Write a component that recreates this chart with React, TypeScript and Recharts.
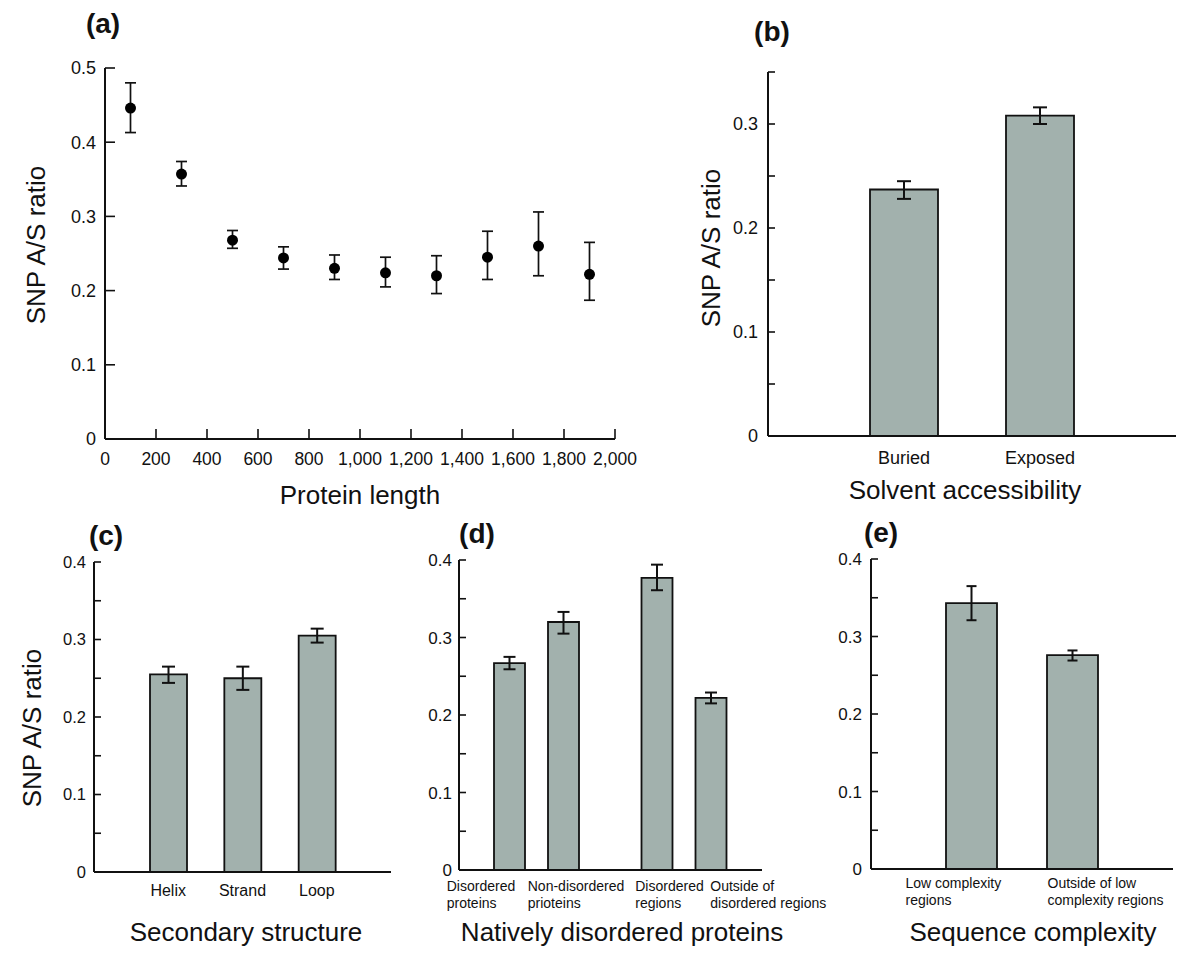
import React from 'react'
import {
  ScatterChart,
  Scatter,
  BarChart,
  Bar,
  XAxis,
  YAxis,
  ErrorBar,
} from 'recharts'

// (a) SNP A/S ratio vs protein length (bin centres)
const lengthBins = [100, 300, 500, 700, 900, 1100, 1300, 1500, 1700, 1900]
const lengthRatio = [0.446, 0.357, 0.268, 0.244, 0.23, 0.224, 0.22, 0.245, 0.26, 0.222]
const lengthLow = [0.413, 0.341, 0.257, 0.229, 0.215, 0.205, 0.196, 0.215, 0.22, 0.187]
const lengthHigh = [0.48, 0.374, 0.281, 0.259, 0.248, 0.245, 0.247, 0.28, 0.306, 0.265]
const lengthTicks = [0, 200, 400, 600, 800, 1000, 1200, 1400, 1600, 1800, 2000]
const ratioTicksA = [0, 0.1, 0.2, 0.3, 0.4, 0.5]

// (b) solvent accessibility
const solventCats = ['Buried', 'Exposed']
const solventRatio = [0.237, 0.308]
const solventLow = [0.228, 0.3]
const solventHigh = [0.245, 0.316]
const ratioTicksB = [0, 0.05, 0.1, 0.15, 0.2, 0.25, 0.3, 0.35]

// (c) secondary structure
const structCats = ['Helix', 'Strand', 'Loop']
const structRatio = [0.255, 0.25, 0.305]
const structLow = [0.244, 0.235, 0.296]
const structHigh = [0.265, 0.265, 0.314]

// (d) natively disordered proteins, two groups of two bars
const disorderGroups = ['proteins', 'regions']
const disorderInRatio = [0.267, 0.377]
const disorderInLow = [0.259, 0.361]
const disorderInHigh = [0.275, 0.394]
const disorderOutRatio = [0.32, 0.222]
const disorderOutLow = [0.305, 0.215]
const disorderOutHigh = [0.333, 0.229]
const disorderLabels = [
  [['Disordered', 'proteins'], ['Non-disordered', 'prioteins']],
  [['Disordered', 'regions'], ['Outside of', 'disordered regions']],
]

// (e) sequence complexity
const complexityCats = ['low', 'outside']
const complexityRatio = [0.343, 0.276]
const complexityLow = [0.321, 0.269]
const complexityHigh = [0.365, 0.282]
const complexityLabels = [
  ['Low complexity', 'regions'],
  ['Outside of low', 'complexity regions'],
]

const ratioTicks04 = [0, 0.05, 0.1, 0.15, 0.2, 0.25, 0.3, 0.35, 0.4]

const FONT = '"Liberation Sans", Arial, Helvetica, sans-serif'
const INK = '#111'
const BAR_FILL = '#a2b1ad'

const err = (v: number, lo: number, hi: number) => [+(v - lo).toFixed(4), +(hi - v).toFixed(4)]

const lengthData = lengthBins.map((len, i) => ({
  len,
  ratio: lengthRatio[i],
  err: err(lengthRatio[i], lengthLow[i], lengthHigh[i]),
}))
const solventData = solventCats.map((name, i) => ({
  name,
  ratio: solventRatio[i],
  err: err(solventRatio[i], solventLow[i], solventHigh[i]),
}))
const structData = structCats.map((name, i) => ({
  name,
  ratio: structRatio[i],
  err: err(structRatio[i], structLow[i], structHigh[i]),
}))
const disorderData = disorderGroups.map((name, i) => ({
  name,
  inside: disorderInRatio[i],
  insideErr: err(disorderInRatio[i], disorderInLow[i], disorderInHigh[i]),
  outside: disorderOutRatio[i],
  outsideErr: err(disorderOutRatio[i], disorderOutLow[i], disorderOutHigh[i]),
}))
const complexityData = complexityCats.map((name, i) => ({
  name,
  ratio: complexityRatio[i],
  err: err(complexityRatio[i], complexityLow[i], complexityHigh[i]),
}))

const majorOnly = (v: number) => {
  const k = Math.round(v * 100)
  if (k % 10 !== 0) return ''
  return k === 0 ? '0' : (k / 100).toFixed(1)
}

const axisLine = { stroke: INK, strokeWidth: 2 }
const tickLine = { stroke: INK, strokeWidth: 1.6 }

function Dot(props: any) {
  return <circle cx={props.cx} cy={props.cy} r={5.5} fill="#000" />
}

// label starts relative to the group centre, left aligned like the original
const disorderShift = [
  [-90, -9],
  [-49, 26],
]
function DisorderTick({ x, y, index }: any) {
  const labels = disorderLabels[index] || []
  return (
    <g>
      {labels.map((lines, j) => (
        <text key={j} x={x + disorderShift[index][j]} y={y} fontSize={14} fill={INK} textAnchor="start">
          <tspan x={x + disorderShift[index][j]} dy={21}>{lines[0]}</tspan>
          <tspan x={x + disorderShift[index][j]} dy={17}>{lines[1]}</tspan>
        </text>
      ))}
    </g>
  )
}

const complexityShift = [-66, -25]
function ComplexityTick({ x, y, index }: any) {
  const lines = complexityLabels[index] || []
  const lx = x + complexityShift[index]
  return (
    <text x={lx} y={y} fontSize={14} fill={INK} textAnchor="start">
      <tspan x={lx} dy={19}>{lines[0]}</tspan>
      <tspan x={lx} dy={17}>{lines[1]}</tspan>
    </text>
  )
}

function Caption({ x, y, size, bold, rotate, children }: any) {
  return (
    <div
      style={{
        position: 'absolute',
        left: x,
        top: y,
        transform: `translate(-50%, -50%)${rotate ? ' rotate(-90deg)' : ''}`,
        fontSize: size,
        fontWeight: bold ? 'bold' : 'normal',
        whiteSpace: 'nowrap',
        lineHeight: 1,
        color: INK,
      }}
    >
      {children}
    </div>
  )
}

const place = (left: number, top: number): React.CSSProperties => ({ position: 'absolute', left, top })

export default function App() {
  return (
    <div
      style={{
        position: 'absolute',
        left: 0,
        top: 0,
        width: 1200,
        height: 959,
        background: '#fff',
        fontFamily: FONT,
        overflow: 'hidden',
      }}
    >
      {/* (a) */}
      <div style={place(0, 0)}>
        <ScatterChart width={640} height={520} margin={{ top: 68, right: 25, bottom: 21, left: 45 }}>
          <XAxis
            type="number"
            dataKey="len"
            domain={[0, 2000]}
            ticks={lengthTicks}
            tickFormatter={(v: number) => v.toLocaleString('en-US')}
            height={60}
            axisLine={axisLine}
            tickLine={tickLine}
            tickSize={-10}
            tickMargin={24}
            tick={{ fill: INK, fontSize: 17.5 }}
            interval={0}
          />
          <YAxis
            type="number"
            dataKey="ratio"
            domain={[0, 0.5]}
            ticks={ratioTicksA}
            tickFormatter={(v: number) => (v === 0 ? '0' : v.toFixed(1))}
            width={60}
            axisLine={axisLine}
            tickLine={tickLine}
            tickSize={-10}
            tickMargin={19}
            tick={{ fill: INK, fontSize: 18 }}
            interval={0}
          />
          <Scatter data={lengthData} shape={<Dot />} isAnimationActive={false}>
            <ErrorBar dataKey="err" direction="y" width={5.5} stroke={INK} strokeWidth={1.7} />
          </Scatter>
        </ScatterChart>
      </div>

      {/* (b) */}
      <div style={place(640, 0)}>
        <BarChart width={560} height={520} data={solventData} margin={{ top: 72, right: 24, bottom: 44, left: 68 }}>
          <XAxis
            dataKey="name"
            padding={{ left: 68, right: 68 }}
            height={40}
            axisLine={axisLine}
            tickLine={false}
            tickSize={0}
            tickMargin={15}
            tick={{ fill: INK, fontSize: 18 }}
            interval={0}
          />
          <YAxis
            domain={[0, 0.35]}
            ticks={ratioTicksB}
            tickFormatter={majorOnly}
            width={60}
            axisLine={axisLine}
            tickLine={tickLine}
            tickSize={-7}
            tickMargin={17}
            tick={{ fill: INK, fontSize: 18 }}
            interval={0}
          />
          <Bar dataKey="ratio" barSize={68} fill={BAR_FILL} stroke={INK} strokeWidth={1.8} isAnimationActive={false}>
            <ErrorBar dataKey="err" width={7} stroke={INK} strokeWidth={2} />
          </Bar>
        </BarChart>
      </div>

      {/* (c) */}
      <div style={place(0, 520)}>
        <BarChart width={420} height={439} data={structData} margin={{ top: 42, right: 29, bottom: 47, left: 44 }}>
          <XAxis
            dataKey="name"
            padding={{ left: 37, right: 37 }}
            height={40}
            axisLine={axisLine}
            tickLine={false}
            tickSize={0}
            tickMargin={13}
            tick={{ fill: INK, fontSize: 16 }}
            interval={0}
          />
          <YAxis
            domain={[0, 0.4]}
            ticks={ratioTicks04}
            tickFormatter={majorOnly}
            width={50}
            axisLine={axisLine}
            tickLine={tickLine}
            tickSize={-7}
            tickMargin={15}
            tick={{ fill: INK, fontSize: 16.5 }}
            interval={0}
          />
          <Bar dataKey="ratio" barSize={37} fill={BAR_FILL} stroke={INK} strokeWidth={1.8} isAnimationActive={false}>
            <ErrorBar dataKey="err" width={6.5} stroke={INK} strokeWidth={2} />
          </Bar>
        </BarChart>
      </div>

      {/* (d) */}
      <div style={place(400, 520)}>
        <BarChart
          width={450}
          height={439}
          data={disorderData}
          barGap={23}
          margin={{ top: 40, right: 88, bottom: 39, left: 20 }}
        >
          <XAxis
            dataKey="name"
            padding={{ left: 4, right: 4 }}
            height={50}
            axisLine={axisLine}
            tickLine={false}
            tickSize={0}
            tickMargin={0}
            tick={<DisorderTick />}
            interval={0}
          />
          <YAxis
            domain={[0, 0.4]}
            ticks={ratioTicks04}
            tickFormatter={majorOnly}
            width={39}
            axisLine={axisLine}
            tickLine={tickLine}
            tickSize={-7}
            tickMargin={14}
            tick={{ fill: INK, fontSize: 17 }}
            interval={0}
          />
          <Bar dataKey="inside" barSize={31} fill={BAR_FILL} stroke={INK} strokeWidth={1.8} isAnimationActive={false}>
            <ErrorBar dataKey="insideErr" width={6} stroke={INK} strokeWidth={2} />
          </Bar>
          <Bar dataKey="outside" barSize={31} fill={BAR_FILL} stroke={INK} strokeWidth={1.8} isAnimationActive={false}>
            <ErrorBar dataKey="outsideErr" width={6} stroke={INK} strokeWidth={2} />
          </Bar>
        </BarChart>
      </div>

      {/* (e) */}
      <div style={place(820, 520)}>
        <BarChart width={380} height={439} data={complexityData} margin={{ top: 39, right: 27, bottom: 40, left: 11 }}>
          <XAxis
            dataKey="name"
            padding={{ left: 50, right: 50 }}
            height={50}
            axisLine={axisLine}
            tickLine={false}
            tickSize={0}
            tickMargin={0}
            tick={<ComplexityTick />}
            interval={0}
          />
          <YAxis
            domain={[0, 0.4]}
            ticks={ratioTicks04}
            tickFormatter={majorOnly}
            width={40}
            axisLine={axisLine}
            tickLine={tickLine}
            tickSize={-7}
            tickMargin={16}
            tick={{ fill: INK, fontSize: 17 }}
            interval={0}
          />
          <Bar dataKey="ratio" barSize={51} fill={BAR_FILL} stroke={INK} strokeWidth={1.8} isAnimationActive={false}>
            <ErrorBar dataKey="err" width={5} stroke={INK} strokeWidth={2} />
          </Bar>
        </BarChart>
      </div>

      {/* panel letters */}
      <Caption x={103} y={24} size={28} bold>(a)</Caption>
      <Caption x={772} y={32} size={28} bold>(b)</Caption>
      <Caption x={106} y={536} size={28} bold>(c)</Caption>
      <Caption x={477} y={534} size={28} bold>(d)</Caption>
      <Caption x={881} y={533} size={28} bold>(e)</Caption>

      {/* axis titles */}
      <Caption x={36} y={245} size={26} rotate>SNP A/S ratio</Caption>
      <Caption x={711} y={248} size={26} rotate>SNP A/S ratio</Caption>
      <Caption x={32} y={728} size={26} rotate>SNP A/S ratio</Caption>
      <Caption x={360} y={495} size={26}>Protein length</Caption>
      <Caption x={965} y={490} size={26}>Solvent accessibility</Caption>
      <Caption x={246} y={932} size={26}>Secondary structure</Caption>
      <Caption x={622} y={932} size={26}>Natively disordered proteins</Caption>
      <Caption x={1033} y={932} size={26}>Sequence complexity</Caption>
    </div>
  )
}
